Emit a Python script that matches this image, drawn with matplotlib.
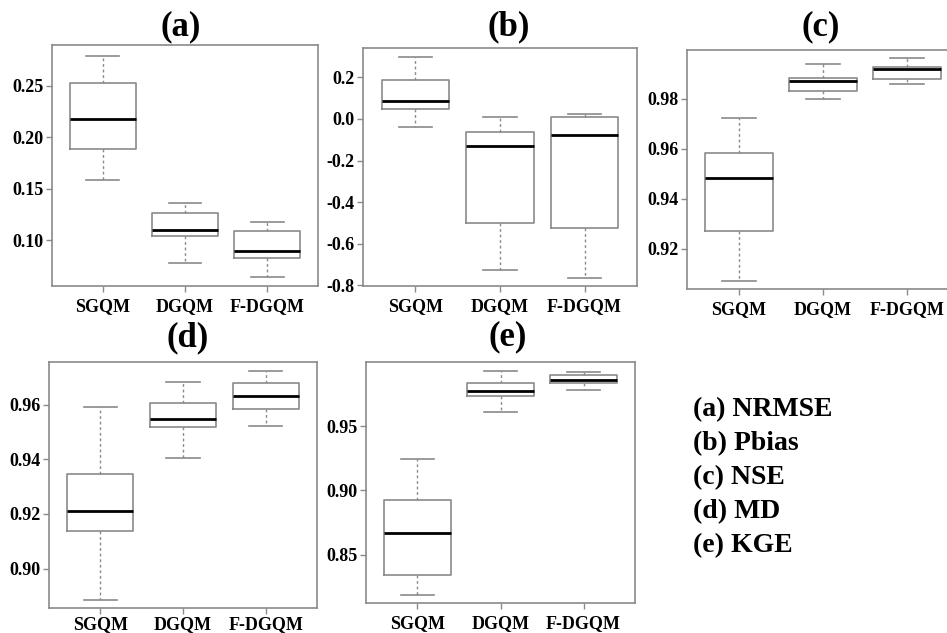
import matplotlib
matplotlib.use("Agg")
import matplotlib.pyplot as plt

methods = ["SGQM", "DGQM", "F-DGQM"]

# five-number summaries per panel: [lower whisker, Q1, median, Q3, upper whisker]
nrmse = [[0.158, 0.1885, 0.2177, 0.2526, 0.279],
         [0.0774, 0.1039, 0.1097, 0.1265, 0.1362],
         [0.0638, 0.0825, 0.0893, 0.1087, 0.1175]]
pbias = [[-0.0385, 0.0496, 0.088, 0.186, 0.2996],
         [-0.726, -0.501, -0.131, -0.064, 0.011],
         [-0.766, -0.526, -0.077, 0.011, 0.0255]]
nse = [[0.9072, 0.9269, 0.9481, 0.9584, 0.9721],
       [0.9800, 0.9830, 0.9870, 0.9884, 0.9938],
       [0.9859, 0.9877, 0.9917, 0.9925, 0.9962]]
md = [[0.8885, 0.9137, 0.9212, 0.9346, 0.959],
      [0.9405, 0.9518, 0.9547, 0.9607, 0.9682],
      [0.9522, 0.9585, 0.9630, 0.9678, 0.9723]]
kge = [[0.8190, 0.8343, 0.8673, 0.8928, 0.9244],
       [0.9606, 0.9733, 0.9772, 0.9834, 0.9929],
       [0.9778, 0.9834, 0.9860, 0.9899, 0.9919]]

titles = ["(a)", "(b)", "(c)", "(d)", "(e)"]
yticks_list = [[0.10, 0.15, 0.20, 0.25],
               [-0.8, -0.6, -0.4, -0.2, 0.0, 0.2],
               [0.92, 0.94, 0.96, 0.98],
               [0.90, 0.92, 0.94, 0.96],
               [0.85, 0.90, 0.95]]
ytick_labels = [["0.10", "0.15", "0.20", "0.25"],
                ["-0.8", "-0.6", "-0.4", "-0.2", "0.0", "0.2"],
                ["0.92", "0.94", "0.96", "0.98"],
                ["0.90", "0.92", "0.94", "0.96"],
                ["0.85", "0.90", "0.95"]]
legend_lines = ["(a) NRMSE", "(b) Pbias", "(c) NSE", "(d) MD", "(e) KGE"]

W, H = 947, 633
# axes boxes in pixels: (x0, x1, ytop, ybottom)
boxes_px = [(52, 318, 45, 286), (363, 637, 48, 286), (687, 959, 50, 289),
            (49, 317, 362, 608), (366, 635, 362, 603)]
ylims = [(0.0553, 0.2898), (-0.803, 0.341), (0.9038, 0.9995),
         (0.8856, 0.9756), (0.8126, 0.9998)]
xpads = [5, 5, 5, 2, 5]
title_pos = [(181, 27), (509, 27), (821, 27), (188, 338), (508, 337)]

FONT = "Liberation Serif"
GRAY = "#8a8a8a"

fig = plt.figure(figsize=(W / 100, H / 100), dpi=100)
fig.patch.set_facecolor("white")

data = [nrmse, pbias, nse, md, kge]
for i, d in enumerate(data):
    x0, x1, yt, yb = boxes_px[i]
    ax = fig.add_axes([x0 / W, 1 - yb / H, (x1 - x0) / W, (yb - yt) / H])
    stats = []
    for m, s in zip(methods, d):
        stats.append(dict(label=m, whislo=s[0], q1=s[1], med=s[2], q3=s[3],
                          whishi=s[4], fliers=[]))
    ax.bxp(stats, positions=[1, 2, 3], widths=0.8, capwidths=0.4,
           showfliers=False,
           boxprops=dict(color=GRAY, linewidth=1.2),
           medianprops=dict(color="black", linewidth=2.0),
           whiskerprops=dict(color=GRAY, linewidth=1.0, linestyle=(0, (2, 2))),
           capprops=dict(color=GRAY, linewidth=1.2))
    ax.set_xlim(0.38, 3.62)
    ax.set_ylim(*ylims[i])
    ax.set_yticks(yticks_list[i])
    ax.set_yticklabels(ytick_labels[i])
    ax.set_xticks([1, 2, 3])
    ax.set_xticklabels(methods)
    for sp in ax.spines.values():
        sp.set_color(GRAY)
        sp.set_linewidth(1.2)
    ax.tick_params(axis="both", length=4, width=1, color=GRAY)
    ax.tick_params(axis="y", pad=2)
    ax.tick_params(axis="x", pad=xpads[i])
    for lab in ax.get_xticklabels() + ax.get_yticklabels():
        lab.set_fontfamily(FONT)
        lab.set_fontweight("bold")
        lab.set_fontsize(13)
    tx, ty = title_pos[i]
    fig.text(tx / W, 1 - ty / H, titles[i], ha="center", va="center",
             fontfamily=FONT, fontweight="bold", fontsize=25)

leg_y = [410, 444, 478, 512, 546]
for txt, y in zip(legend_lines, leg_y):
    fig.text(693 / W, 1 - y / H, txt, ha="left", va="center",
             fontfamily=FONT, fontweight="bold", fontsize=20)

fig.savefig("out.png", dpi=100, facecolor="white")
